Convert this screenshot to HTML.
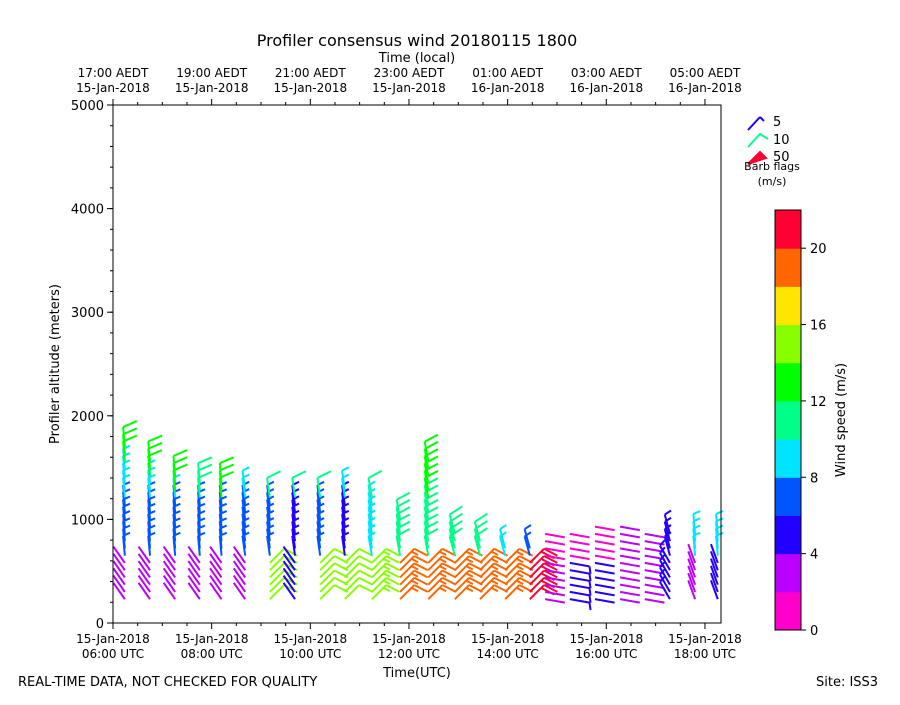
<!DOCTYPE html>
<html><head><meta charset="utf-8"><style>
body{margin:0;background:#fff;font-family:"Liberation Sans","DejaVu Sans",sans-serif}
svg text{font-family:"DejaVu Sans","Liberation Sans",sans-serif}
</style></head><body>
<svg id="c" width="900" height="700" viewBox="0 0 900 700" xmlns="http://www.w3.org/2000/svg">
<text x="417" y="46" font-size="16" text-anchor="middle">Profiler consensus wind 20180115 1800</text>
<text x="417" y="62" font-size="13" text-anchor="middle">Time (local)</text>
<text x="417" y="677" font-size="13" text-anchor="middle">Time(UTC)</text>
<text x="18" y="686" font-size="13">REAL-TIME DATA, NOT CHECKED FOR QUALITY</text>
<text x="816" y="686" font-size="13">Site: ISS3</text>
<text transform="translate(59,364) rotate(-90)" font-size="13" text-anchor="middle">Profiler altitude (meters)</text>
<g id="barbs"></g>
<rect x="113" y="105" width="608" height="518" fill="none" stroke="#000" stroke-width="1"/>
<g id="axes"></g>
<g>
<path d="M748 130 L760 117 M760 117 L764 121" stroke="#1a00ff" stroke-width="2" fill="none"/>
<text x="773" y="126" font-size="13">5</text>
<path d="M748 147 L760 134 L768 139" stroke="#00ff88" stroke-width="2" fill="none"/>
<text x="773" y="144" font-size="13">10</text>
<path d="M748 164 L760 152 L766 158 Z" stroke="#ff0033" stroke-width="2" fill="#ff0033"/>
<text x="773" y="161" font-size="13">50</text>
<text x="772" y="170" font-size="11" text-anchor="middle">Barb flags</text>
<text x="772" y="185" font-size="11" text-anchor="middle">(m/s)</text>
</g>
<g id="cbar"></g>
<text transform="translate(845,420) rotate(-90)" font-size="13" text-anchor="middle">Wind speed (m/s)</text>
</svg>
<script>
const times=[0.24,0.75,1.26,1.76,2.2,2.68,3.18,3.69,4.2,4.7,5.25,5.82,6.39,6.93,7.44,7.95,8.45,8.76,9.26,9.77,10.28,10.78,11.29,11.8,12.26];
const tops=[1900,1780,1670,1540,1600,1490,1450,1420,1430,1480,1420,1250,1770,1100,1000,930,930,1100,1050,1150,1150,1100,1080,1100,1050];
const spdLow=[3,3,3,3,3,3,14,4,14,14,15,19,19,19,18,19,21,2,5,4,2,2,5,3,4];
const spdMid=[7,7,6,7,7,7,6,5,6,5,9,10,11,11,11,8,7,1,1,1,2,2,5,8,8];
const spdHigh=[9,9,9,9,9,9,9,9,6,6,10,12,12,13,10,6,6,1,1,1,1,1,5,9,8];
const spdTop=[13,12,12,11,13,9,10,10,10,9,11,13,13,13,10,6,6,1,1,1,1,1,5,12,8];
const dirLow=[-35,-35,-35,-35,-35,-35,45,-35,45,45,45,45,45,45,45,45,45,100,100,100,100,100,-30,-20,-20];
const dirHigh=[-5,-5,-5,-5,-5,-8,-8,-8,-8,-8,-10,-10,-10,-15,-15,-15,-15,100,100,100,100,100,-15,-5,-5];
const cbColors=['#ff00cc','#bb00ff','#2200ff','#0055ff','#00e5ff','#00ff88','#00ff00','#88ff00','#ffe600','#ff6600','#ff0033'];
const cbTicks=[0,4,8,12,16,20];
const yTicks=[0,1000,2000,3000,4000,5000];
const localLabels=['17:00 AEDT|15-Jan-2018','19:00 AEDT|15-Jan-2018','21:00 AEDT|15-Jan-2018','23:00 AEDT|15-Jan-2018','01:00 AEDT|16-Jan-2018','03:00 AEDT|16-Jan-2018','05:00 AEDT|16-Jan-2018'];
const utcLabels=['15-Jan-2018|06:00 UTC','15-Jan-2018|08:00 UTC','15-Jan-2018|10:00 UTC','15-Jan-2018|12:00 UTC','15-Jan-2018|14:00 UTC','15-Jan-2018|16:00 UTC','15-Jan-2018|18:00 UTC'];
const NS='http://www.w3.org/2000/svg';
const X=t=>113+t*49.33, Y=a=>623-a*0.1036;
const CB=v=>630-v*(420/22);
function col(s){return cbColors[Math.max(0,Math.min(10,Math.floor(s/2)))];}
function mk(tag,attrs,parent){const e=document.createElementNS(NS,tag);for(const k in attrs)e.setAttribute(k,attrs[k]);parent.appendChild(e);return e;}
const bg=document.getElementById('barbs');
const L=20;
times.forEach((t,i)=>{
  for(let a=230;a<=tops[i]-190;a+=70){
    let s,d;
    if(a<600){s=spdLow[i];d=dirLow[i];}
    else if(a<1200){s=spdMid[i];d=(i>=17&&i<=21)?100:dirHigh[i];}
    else if(a>tops[i]-400){s=spdTop[i];d=dirHigh[i];}
    else {s=spdHigh[i];d=dirHigh[i];}
    const x=X(t),y=Y(a),r=d*Math.PI/180;
    const ex=x+L*Math.sin(r),ey=y-L*Math.cos(r);
    let p=`M${x} ${y} L${ex} ${ey}`;
    const full=Math.floor(s/10),half=(s%10)>=5?1:0;
    const fr=r+Math.PI*72/180,fl=15;let k=0;
    for(let f=0;f<full+half;f++,k++){
      const bx=ex-(k*4)*Math.sin(r),by=ey+(k*4)*Math.cos(r);
      const len=f<full?fl:fl/2;
      p+=` M${bx} ${by} L${bx+len*Math.sin(fr)} ${by-len*Math.cos(fr)}`;
    }
    const g=mk('path',{d:p,stroke:col(s),'stroke-width':2,fill:'none'},bg);
    
    
  }
});
const ax=document.getElementById('axes');


yTicks.forEach(v=>{mk('line',{x1:107,x2:113,y1:Y(v),y2:Y(v),stroke:'#000'},ax);
  const tx=mk('text',{x:104,y:Y(v)+5,'font-size':13,'text-anchor':'end'},ax);tx.textContent=v;
  
  });
for(let v=0;v<=5000;v+=200)mk('line',{x1:110,x2:113,y1:Y(v),y2:Y(v),stroke:'#000'},ax);
for(let h=0;h<=12.3;h+=0.5){const m=Math.abs(h%2)<0.01;
  mk('line',{x1:X(h),x2:X(h),y1:623,y2:m?629:626,stroke:'#000'},ax);
  mk('line',{x1:X(h),x2:X(h),y1:105,y2:m?99:102,stroke:'#000'},ax);}
utcLabels.forEach((l,i)=>{const [a,b]=l.split('|');
  const t1=mk('text',{x:X(i*2),y:643,'font-size':12,'text-anchor':'middle'},ax);t1.textContent=a;
  const t2=mk('text',{x:X(i*2),y:658,'font-size':12,'text-anchor':'middle'},ax);t2.textContent=b;});
localLabels.forEach((l,i)=>{const [a,b]=l.split('|');
  const t1=mk('text',{x:X(i*2),y:77,'font-size':12,'text-anchor':'middle'},ax);t1.textContent=a;
  const t2=mk('text',{x:X(i*2),y:92,'font-size':12,'text-anchor':'middle'},ax);t2.textContent=b;});
const cb=document.getElementById('cbar');
cbColors.forEach((c,i)=>{const r=mk('rect',{x:775,y:CB((i+1)*2),width:26,height:CB(i*2)-CB((i+1)*2)+0.5,fill:c},cb);
  
  });
mk('rect',{x:775,y:210,width:26,height:420,fill:'none',stroke:'#000'},cb);
cbTicks.forEach(v=>{mk('line',{x1:801,x2:806,y1:CB(v),y2:CB(v),stroke:'#000'},cb);
  const t=mk('text',{x:810,y:CB(v)+5,'font-size':13},cb);t.textContent=v;});
</script>
</body></html>
